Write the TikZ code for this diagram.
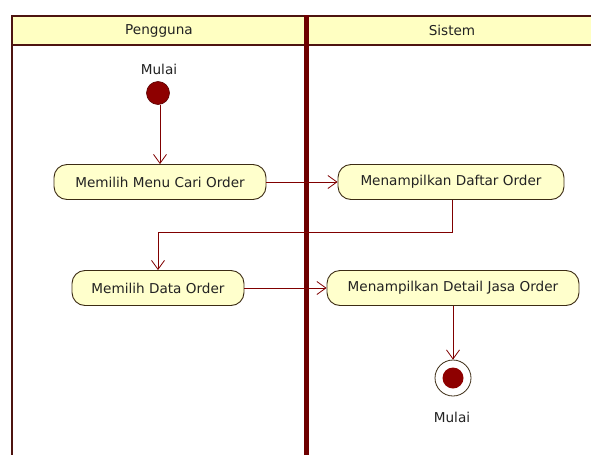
\documentclass[tikz,border=0pt]{standalone}
\usepackage{fontspec}
\setmainfont{DejaVu Sans}
\usetikzlibrary{arrows.meta}
\definecolor{frameline}{HTML}{4E1410}
\definecolor{divline}{HTML}{6E0000}
\definecolor{headfill}{HTML}{FFFFC2}
\definecolor{actfill}{HTML}{FFFFCC}
\definecolor{actline}{HTML}{3C2C14}
\definecolor{flowline}{HTML}{800000}
\definecolor{dotfill}{HTML}{8E0000}
\definecolor{txt}{HTML}{222222}
\tikzset{
  x=1pt, y=-1pt,
  action/.style={draw=actline, line width=0.9pt, fill=actfill, rounded corners=13pt,
    minimum height=35pt, inner sep=0pt, text=txt, font=\fontsize{13.6}{16}\selectfont},
  lanetitle/.style={text=txt, font=\fontsize{13.6}{16}\selectfont, inner sep=0pt},
  flow/.style={draw=flowline, line width=0.9pt, -{Straight Barb[length=9pt,width=13pt,line width=0.8pt]}},
  startdot/.style={circle, fill=dotfill, draw=flowline!70!black, line width=0.6pt, minimum size=23pt, inner sep=0pt},
  endring/.style={circle, fill=white, draw=actline, line width=0.8pt, minimum size=36pt, inner sep=0pt},
  enddot/.style={circle, fill=dotfill, minimum size=21pt, inner sep=0pt},
}
\begin{document}
\begin{tikzpicture}
\useasboundingbox (0,0) rectangle (591,455);
\fill[white] (0,0) rectangle (591,455);

% swimlane frame
\fill[headfill] (12,16) rectangle (591,45);
\draw[frameline, line width=2.6pt] (591,16) -- (12,16) -- (12,455);
\draw[frameline, line width=2.4pt] (12,45) -- (591,45);
\draw[divline, line width=5pt] (306,15) -- (306,455);
\node[lanetitle] (laneA) at (159,30.5) {Pengguna};
\node[lanetitle] (laneB) at (452,30.5) {Sistem};

% start
\node[startdot] (start) at (158,93) {};
\node[lanetitle] (startlbl) at (159,69) {Mulai};

% activities
\node[action, minimum width=212pt] (n1) at (160,182) {Memilih Menu Cari Order};
\node[action, minimum width=226pt] (n2) at (451,182) {Menampilkan Daftar Order};
\node[action, minimum width=172pt] (n3) at (158,288) {Memilih Data Order};
\node[action, minimum width=252pt] (n4) at (453,288) {Menampilkan Detail Jasa Order};

% end
\node[endring] (stop) at (453,378) {};
\node[enddot] at (stop) {};
\node[lanetitle] (stoplbl) at (452,417) {Mulai};

% flows
\coordinate (b1) at (452,232);
\coordinate (b2) at (158,232);
\draw[flow] (start.south -| n1.north) -- (n1.north);
\draw[flow] (n1.east) -- (n2.west);
\draw[flow] (n2.south -| b1) -- (b1) -- (b2) -- (n3.north);
\draw[flow] (n3.east) -- (n4.west);
\draw[flow] (n4.south) -- (stop.north);
\end{tikzpicture}
\end{document}
